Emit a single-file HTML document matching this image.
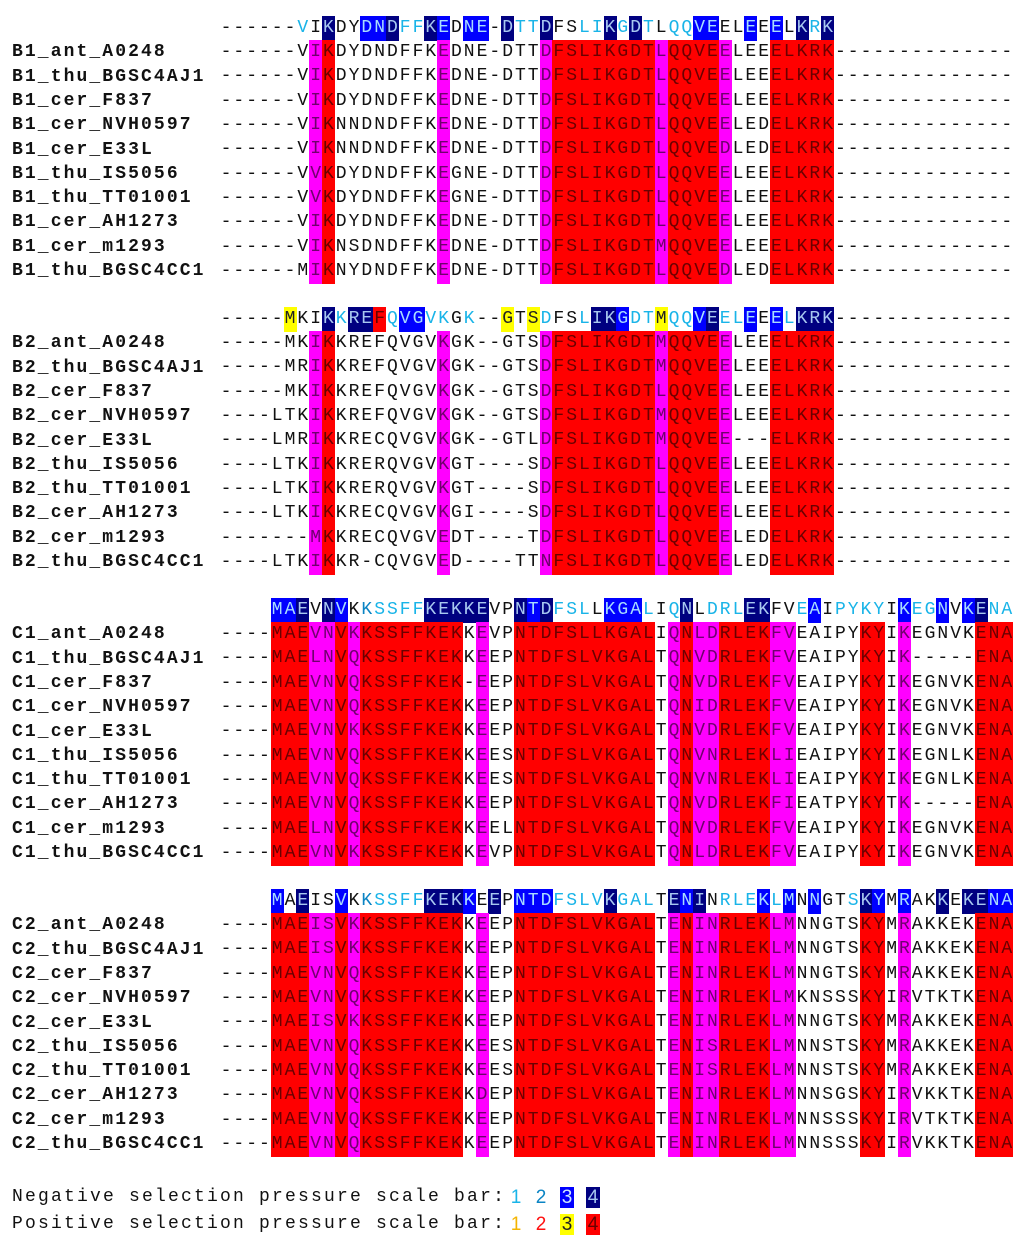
<!DOCTYPE html>
<html><head><meta charset="utf-8">
<style>
html,body{margin:0;padding:0;background:#fff;font-family:"Liberation Mono",monospace;}
#stage{position:relative;width:1024px;height:1248px;overflow:hidden;background:#fff;font-family:"Liberation Mono",monospace;}
.c{position:absolute;width:13px;text-align:center;font-size:18px;}
.lab{position:absolute;left:12px;font-weight:bold;font-size:18px;letter-spacing:2.1px;white-space:pre;color:#111;}
.leg{position:absolute;left:12px;font-family:"Liberation Mono",monospace;font-size:18px;letter-spacing:2.2px;white-space:pre;color:#111;}
.ld{position:absolute;font-family:"Liberation Sans",sans-serif;font-size:19px;width:14px;height:21px;line-height:21px;text-align:center;}
</style></head>
<body>
<div id="stage"></div>
<script>
// ---- data ----
const blockNames = ["B1","B2","C1","C2"];
const strainNames = ["ant_A0248","thu_BGSC4AJ1","cer_F837","cer_NVH0597","cer_E33L","thu_IS5056","thu_TT01001","cer_AH1273","cer_m1293","thu_BGSC4CC1"];
const headerSeqs = [
"------VIKDYDNDFFKEDNE-DTTDFSLIKGDTLQQVEELEEELKRK",
"-----MKIKKREFQVGVKGK--GTSDFSLIKGDTMQQVEELEEELKRK--------------",
"    MAEVNVKKSSFFKEKKEVPNTDFSLLKGALIQNLDRLEKFVEAIPYKYIKEGNVKENA",
"    MAEISVKKSSFFKEKKEEPNTDFSLVKGALTENINRLEKLMNNGTSKYMRAKKEKENA"];
const headerCodes = [
"......1.4..3341143.33.4114..114141.1133..3.3.414",
".....y..4144r13311.1..y.y1..144311y1134113.31444..............",
"....334.43.2111144444..434111.3331.14.11144..13.1111.3113.3411",
"....3.4..3.211114443.4.33311114111.434.111313.3..143.3..4.4433"];
const rowCodes = [
"......." + "mr........m.......mrrrrrrrrmrrrrm...rrrrr..............",
"......." + "mr........m.......mrrrrrrrrmrrrrm...rrrrr..............",
"....rrrmmrmrrrrrrrr.m..rrrrrrrrrrr.mrmmrrrrmm.....rr.m.....rrr",
"....rrrmmrmrrrrrrrr.m..rrrrrrrrrrr.mrmmrrrrmm.....rr.m.....rrr"];
const seqsB1 = [
"------VIKDYDNDFFKEDNE-DTTDFSLIKGDTLQQVEELEEELKRK--------------",
"------VIKDYDNDFFKEDNE-DTTDFSLIKGDTLQQVEELEEELKRK--------------",
"------VIKDYDNDFFKEDNE-DTTDFSLIKGDTLQQVEELEEELKRK--------------",
"------VIKNNDNDFFKEDNE-DTTDFSLIKGDTLQQVEELEDELKRK--------------",
"------VIKNNDNDFFKEDNE-DTTDFSLIKGDTLQQVEDLEDELKRK--------------",
"------VVKDYDNDFFKEGNE-DTTDFSLIKGDTLQQVEELEEELKRK--------------",
"------VVKDYDNDFFKEGNE-DTTDFSLIKGDTLQQVEELEEELKRK--------------",
"------VIKDYDNDFFKEDNE-DTTDFSLIKGDTLQQVEELEEELKRK--------------",
"------VIKNSDNDFFKEDNE-DTTDFSLIKGDTMQQVEELEEELKRK--------------",
"------MIKNYDNDFFKEDNE-DTTDFSLIKGDTLQQVEDLEDELKRK--------------"];
const seqsB2 = [
"-----MKIKKREFQVGVKGK--GTSDFSLIKGDTMQQVEELEEELKRK--------------",
"-----MRIKKREFQVGVKGK--GTSDFSLIKGDTMQQVEELEEELKRK--------------",
"-----MKIKKREFQVGVKGK--GTSDFSLIKGDTLQQVEELEEELKRK--------------",
"----LTKIKKREFQVGVKGK--GTSDFSLIKGDTMQQVEELEEELKRK--------------",
"----LMRIKKRECQVGVKGK--GTLDFSLIKGDTMQQVEE---ELKRK--------------",
"----LTKIKKRERQVGVKGT----SDFSLIKGDTLQQVEELEEELKRK--------------",
"----LTKIKKRERQVGVKGT----SDFSLIKGDTLQQVEELEEELKRK--------------",
"----LTKIKKRECQVGVKGI----SDFSLIKGDTLQQVEELEEELKRK--------------",
"-------MKKRECQVGVEDT----TDFSLIKGDTLQQVEELEDELKRK--------------",
"----LTKIKKR-CQVGVED----TTNFSLIKGDTLQQVEELEDELKRK--------------"];
const seqsC1 = [
"----MAEVNVKKSSFFKEKKEVPNTDFSLLKGALIQNLDRLEKFVEAIPYKYIKEGNVKENA",
"----MAELNVQKSSFFKEKKEEPNTDFSLVKGALTQNVDRLEKFVEAIPYKYIK-----ENA",
"----MAEVNVQKSSFFKEK-EEPNTDFSLVKGALTQNVDRLEKFVEAIPYKYIKEGNVKENA",
"----MAEVNVQKSSFFKEKKEEPNTDFSLVKGALTQNIDRLEKFVEAIPYKYIKEGNVKENA",
"----MAEVNVKKSSFFKEKKEEPNTDFSLVKGALTQNVDRLEKFVEAIPYKYIKEGNVKENA",
"----MAEVNVQKSSFFKEKKEESNTDFSLVKGALTQNVNRLEKLIEAIPYKYIKEGNLKENA",
"----MAEVNVQKSSFFKEKKEESNTDFSLVKGALTQNVNRLEKLIEAIPYKYIKEGNLKENA",
"----MAEVNVQKSSFFKEKKEEPNTDFSLVKGALTQNVDRLEKFIEATPYKYTK-----ENA",
"----MAELNVQKSSFFKEKKEELNTDFSLVKGALTQNVDRLEKFVEAIPYKYIKEGNVKENA",
"----MAEVNVKKSSFFKEKKEVPNTDFSLVKGALTQNLDRLEKFVEAIPYKYIKEGNVKENA"];
const seqsC2 = [
"----MAEISVKKSSFFKEKKEEPNTDFSLVKGALTENINRLEKLMNNGTSKYMRAKKEKENA",
"----MAEISVKKSSFFKEKKEEPNTDFSLVKGALTENINRLEKLMNNGTSKYMRAKKEKENA",
"----MAEVNVQKSSFFKEKKEEPNTDFSLVKGALTENINRLEKLMNNGTSKYMRAKKEKENA",
"----MAEVNVQKSSFFKEKKEEPNTDFSLVKGALTENINRLEKLMKNSSSKYIRVTKTKENA",
"----MAEISVKKSSFFKEKKEEPNTDFSLVKGALTENINRLEKLMNNGTSKYMRAKKEKENA",
"----MAEVNVQKSSFFKEKKEESNTDFSLVKGALTENISRLEKLMNNSTSKYMRAKKEKENA",
"----MAEVNVQKSSFFKEKKEESNTDFSLVKGALTENISRLEKLMNNSTSKYMRAKKEKENA",
"----MAEVNVQKSSFFKEKKDEPNTDFSLVKGALTENINRLEKLMNNSGSKYIRVKKTKENA",
"----MAEVNVQKSSFFKEKKEEPNTDFSLVKGALTENINRLEKLMNNSSSKYIRVTKTKENA",
"----MAEVNVQKSSFFKEKKEEPNTDFSLVKGALTENINRLEKLMNNSSSKYIRVKKTKENA"];
const blockSeqs = [seqsB1, seqsB2, seqsC1, seqsC2];

// ---- layout ----
const X0 = 219.5, CW = 12.8, RH = 24.3, BLOCK = 291, FIRST = 28;
const stage = document.getElementById('stage');
const hdrStyle = {
  '.':['transparent','#111'], '1':['transparent','#19b4e8'], '2':['transparent','#0a84c4'],
  '3':['#0000ff','#a8dcff'], '4':['#000080','#a8c8f0'], 'y':['#ffff00','#222'], 'r':['#ff0000','#600']};
const rowStyle = {'.':['transparent','#111'],'m':['#ff00ff','#70006e'],'r':['#ff0000','#6a0000']};

function cell(ch, i, cy, bg, fg, name){
  const d = document.createElement('div');
  d.className = 'c';
  
  
  d.style.left = (X0 + i*CW) + 'px';
  d.style.top = (cy - RH/2) + 'px';
  d.style.height = (RH+0.5) + 'px';
  d.style.lineHeight = RH + 'px';
  d.style.background = bg;
  d.style.color = fg;
  d.textContent = ch;
  stage.appendChild(d);
}

for (let b = 0; b < blockNames.length; b++) {
  const hy = FIRST + b*BLOCK;
  const hs = headerSeqs[b], hc = headerCodes[b];
  for (let i = 0; i < hs.length; i++) {
    if (hs[i] === ' ') continue;
    const st = hdrStyle[hc[i]] || hdrStyle['.'];
    cell(hs[i], i, hy, st[0], st[1], 'consensus-residue');
  }
  const seqs = blockSeqs[b];
  for (let r = 0; r < seqs.length; r++) {
    const cy = hy + RH*(r+1);
    const lab = document.createElement('div');
    lab.className = 'lab';
    
    
    lab.style.top = (cy - 12) + 'px';
    lab.style.lineHeight = '24px';
    lab.textContent = blockNames[b] + '_' + strainNames[r];
    stage.appendChild(lab);
    const s = seqs[r], rc = rowCodes[b];
    for (let i = 0; i < s.length; i++) {
      const st = rowStyle[rc[i]] || rowStyle['.'];
      cell(s[i], i, cy, st[0], st[1], 'residue');
    }
  }
}
</script>
<div class="leg" style="top:1185px;line-height:24px;">Negative selection pressure scale bar:</div>
<div class="leg" style="top:1212px;line-height:24px;">Positive selection pressure scale bar:</div>
<div class="ld" style="left:509px;top:1187px;color:#19b4e8;">1</div>
<div class="ld" style="left:534px;top:1187px;color:#0a84c4;">2</div>
<div class="ld" style="left:560px;top:1187px;background:#0000ff;color:#cfe8ff;">3</div>
<div class="ld" style="left:586px;top:1187px;background:#000080;color:#a8c8f0;">4</div>
<div class="ld" style="left:509px;top:1214px;color:#f4b400;">1</div>
<div class="ld" style="left:534px;top:1214px;color:#ff1010;">2</div>
<div class="ld" style="left:560px;top:1214px;background:#ffff00;color:#222;">3</div>
<div class="ld" style="left:586px;top:1214px;background:#ff0000;color:#600;">4</div>
</body></html>
